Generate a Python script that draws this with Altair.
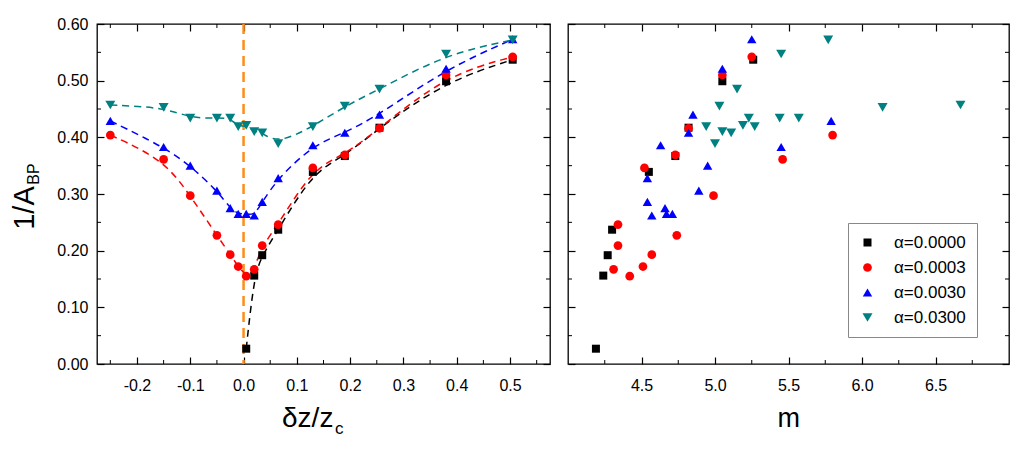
import altair as alt
import pandas as pd

FONT = "Liberation Sans"

# ---------------- data ----------------
series_labels = ["α=0.0000", "α=0.0003", "α=0.0030", "α=0.0300"]
series_colors = ["#000000", "#FF0000", "#0000FF", "#008080"]
series_shapes = ["square", "circle", "triangle-up", "triangle-down"]
series_sizes = [64, 100, 140, 140]

dz_values = [-0.25, -0.15, -0.10, -0.05, -0.025, -0.01, 0.005, 0.02, 0.035,
             0.065, 0.13, 0.19, 0.255, 0.38, 0.505]
dz_black = dz_values[6:]

inv_a0000 = [0.027, 0.156, 0.192, 0.237, 0.339, 0.367, 0.417, 0.499, 0.537]
inv_a0003 = [0.404, 0.361, 0.297, 0.227, 0.193, 0.172, 0.155, 0.167, 0.209,
             0.246, 0.346, 0.369, 0.416, 0.510, 0.542]
inv_a0030 = [0.429, 0.383, 0.350, 0.306, 0.275, 0.265, 0.265, 0.262, 0.286,
             0.328, 0.386, 0.408, 0.440, 0.521, 0.573]
inv_a0300 = [0.457, 0.453, 0.434, 0.434, 0.434, 0.419, 0.421, 0.410, 0.408,
             0.389, 0.419, 0.455, 0.485, 0.547, 0.572]

m_a0000 = [4.19, 4.24, 4.27, 4.30, 4.55, 4.73, 4.82, 5.05, 5.26]
m_a0003 = [5.80, 5.46, 4.99, 4.74, 4.57, 4.51, 4.42, 4.31, 4.34, 4.34,
           4.52, 4.73, 4.82, 5.05, 5.25]
m_a0030 = [5.79, 5.45, 4.95, 4.89, 4.66, 4.71, 4.67, 4.57, 4.54, 4.54,
           4.63, 4.82, 4.85, 5.05, 5.25]
m_a0300 = [6.67, 6.14, 5.57, 5.44, 5.23, 5.27, 5.19, 5.05, 5.11, 5.00,
           4.94, 5.03, 5.15, 5.45, 5.77]

x1_major = [-0.2, -0.1, 0.0, 0.1, 0.2, 0.3, 0.4, 0.5]
x1_minor = [-0.25, -0.15, -0.05, 0.05, 0.15, 0.25, 0.35, 0.45, 0.55]
x2_major = [4.5, 5.0, 5.5, 6.0, 6.5]
x2_minor = [4.25, 4.75, 5.25, 5.75, 6.25, 6.75]
y_major = [0.0, 0.1, 0.2, 0.3, 0.4, 0.5, 0.6]
y_minor = [0.05, 0.15, 0.25, 0.35, 0.45, 0.55]
vline_at = [0.0]

# ---------------- table ----------------
rows = []
for lab, dzs, ys, ms in [
    (series_labels[0], dz_black, inv_a0000, m_a0000),
    (series_labels[1], dz_values, inv_a0003, m_a0003),
    (series_labels[2], dz_values, inv_a0030, m_a0030),
    (series_labels[3], dz_values, inv_a0300, m_a0300),
]:
    for d, y, m in zip(dzs, ys, ms):
        rows.append({"series": lab, "dz": d, "inv": y, "m": m})
df = pd.DataFrame(rows)

W1, W2, H = 453, 441, 340
TICK = 7
MINOR = 4
ORANGE = "#FF8C1A"

color_scale = alt.Scale(domain=series_labels, range=series_colors)
shape_scale = alt.Scale(domain=series_labels, range=series_shapes)
size_scale = alt.Scale(domain=series_labels, range=series_sizes)
ys = alt.Scale(domain=[0, 0.6], nice=False, zero=False)
xs1 = alt.Scale(domain=[-0.275, 0.575], nice=False, zero=False)
xs2 = alt.Scale(domain=[4.0, 7.0], nice=False, zero=False)


def ax(orient, values, labels=True, fmt=None, pad=9):
    kw = dict(orient=orient, values=values, title=None, domain=False, grid=False,
              tickSize=TICK, offset=-TICK, tickColor="black", tickWidth=1.2,
              labels=labels, labelFont=FONT, labelFontSize=16, labelColor="black",
              labelPadding=pad)
    if fmt:
        kw["format"] = fmt
        kw["labelExpr"] = "replace(datum.label, '\u2212', '-')"
    return alt.Axis(**kw)


def minor_ticks(values, field, scale, side, W):
    d = pd.DataFrame({field: values})
    base = alt.Chart(d).mark_rule(color="black", strokeWidth=1)
    if side == "bottom":
        enc = dict(x=alt.X(f"{field}:Q", scale=scale, axis=None), y=alt.value(H), y2=alt.value(H - MINOR))
    elif side == "top":
        enc = dict(x=alt.X(f"{field}:Q", scale=scale, axis=None), y=alt.value(0), y2=alt.value(MINOR))
    elif side == "left":
        enc = dict(y=alt.Y(f"{field}:Q", scale=scale, axis=None), x=alt.value(0), x2=alt.value(MINOR))
    else:
        enc = dict(y=alt.Y(f"{field}:Q", scale=scale, axis=None), x=alt.value(W), x2=alt.value(W - MINOR))
    return base.encode(**enc)


def text_layer(txt, x, y, size, angle=0, align="center"):
    return alt.Chart(pd.DataFrame({"t": [txt]})).mark_text(
        font=FONT, fontSize=size, angle=angle, align=align, baseline="alphabetic", color="black"
    ).encode(x=alt.value(x), y=alt.value(y), text="t:N")


# ---------------- left panel ----------------
vline = alt.Chart(pd.DataFrame({"dz": vline_at})).mark_rule(
    color=ORANGE, strokeDash=[10, 6], strokeWidth=2.5
).encode(x=alt.X("dz:Q", scale=xs1, axis=None))

lines1 = alt.Chart(df).mark_line(strokeDash=[7, 5], strokeWidth=1.5, interpolate="basis").encode(
    x=alt.X("dz:Q", scale=xs1, axis=ax("top", x1_major, labels=False)),
    y=alt.Y("inv:Q", scale=ys, axis=ax("right", y_major, labels=False)),
    color=alt.Color("series:N", scale=color_scale, legend=None),
    detail="series:N",
)

pts1 = alt.Chart(df).mark_point(filled=True, opacity=1).encode(
    x=alt.X("dz:Q", scale=xs1, axis=ax("bottom", x1_major, fmt=".1f", pad=13)),
    y=alt.Y("inv:Q", scale=ys, axis=ax("left", y_major, fmt=".2f", pad=9)),
    color=alt.Color("series:N", scale=color_scale, legend=None),
    shape=alt.Shape("series:N", scale=shape_scale, legend=None),
    size=alt.Size("series:N", scale=size_scale, legend=None),
)

left = alt.layer(
    vline, lines1, pts1,
    minor_ticks(x1_minor, "v", xs1, "bottom", W1),
    minor_ticks(x1_minor, "v", xs1, "top", W1),
    minor_ticks(y_minor, "v", ys, "left", W1),
    minor_ticks(y_minor, "v", ys, "right", W1),
    text_layer("1/A", -63.5, 184, 29, angle=270),
    text_layer("BP", -58, 150, 16, angle=270),
    text_layer("δz/z", 210.7, 403, 28),
    text_layer("c", 238, 410, 17, align="left"),
).resolve_axis(x="independent", y="independent").properties(width=W1, height=H)

# ---------------- right panel ----------------
legend = alt.Legend(
    title=None, orient="none", legendX=280, legendY=199, strokeColor="#888888",
    fillColor="white", padding=11, labelFont=FONT, labelFontSize=17, labelColor="black",
    symbolSize=80, rowPadding=7, labelOffset=18, symbolStrokeWidth=0,
)

pts2 = alt.Chart(df).mark_point(filled=True, opacity=1).encode(
    x=alt.X("m:Q", scale=xs2, axis=ax("bottom", x2_major, fmt=".1f", pad=13)),
    y=alt.Y("inv:Q", scale=ys, axis=ax("left", y_major, labels=False)),
    color=alt.Color("series:N", scale=color_scale, legend=legend),
    shape=alt.Shape("series:N", scale=shape_scale, legend=legend),
    size=alt.Size("series:N", scale=size_scale, legend=None),
)

frame2 = alt.Chart(df).mark_point(opacity=0).encode(
    x=alt.X("m:Q", scale=xs2, axis=ax("top", x2_major, labels=False)),
    y=alt.Y("inv:Q", scale=ys, axis=ax("right", y_major, labels=False)),
)

right = alt.layer(
    frame2, pts2,
    minor_ticks(x2_minor, "v", xs2, "bottom", W2),
    minor_ticks(x2_minor, "v", xs2, "top", W2),
    minor_ticks(y_minor, "v", ys, "left", W2),
    minor_ticks(y_minor, "v", ys, "right", W2),
    text_layer("m", 220.7, 403, 27),
).resolve_axis(x="independent", y="independent").properties(width=W2, height=H)

chart = alt.hconcat(left, right, spacing=14).resolve_scale(
    color="independent", shape="independent", size="independent"
).resolve_legend(
    color="independent", shape="independent", size="independent"
).properties(
    padding={"left": 1, "top": 7, "right": 5, "bottom": 5},
    background="white",
).configure_view(stroke="black", strokeWidth=1.3)

chart.save("out.html", embed_options={"renderer": "svg", "actions": False})
